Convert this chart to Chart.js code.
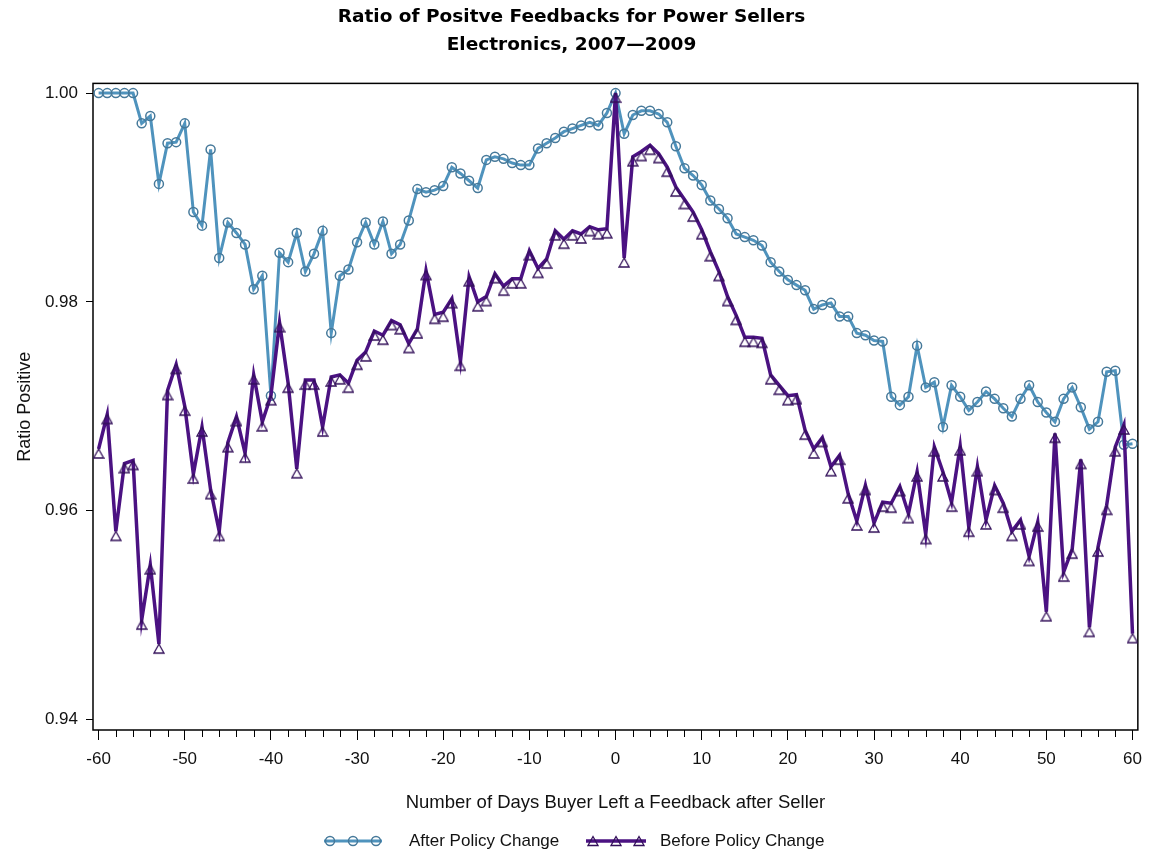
<!DOCTYPE html>
<html>
<head>
<meta charset="utf-8">
<script src="https://cdn.jsdelivr.net/npm/chart.js@4.4.1/dist/chart.umd.min.js"></script>
<style>
  html, body { margin: 0; padding: 0; background: #fff; }
  #chart { display: block; }
</style>
</head>
<body>
<canvas id="chart" width="1151" height="853"></canvas>
<script>
// days relative to the seller's feedback
const days = [
  -60, -59, -58, -57, -56, -55, -54, -53, -52, -51,
  -50, -49, -48, -47, -46, -45, -44, -43, -42, -41,
  -40, -39, -38, -37, -36, -35, -34, -33, -32, -31,
  -30, -29, -28, -27, -26, -25, -24, -23, -22, -21,
  -20, -19, -18, -17, -16, -15, -14, -13, -12, -11,
  -10, -9, -8, -7, -6, -5, -4, -3, -2, -1,
  0,
  1, 2, 3, 4, 5, 6, 7, 8, 9, 10,
  11, 12, 13, 14, 15, 16, 17, 18, 19, 20,
  21, 22, 23, 24, 25, 26, 27, 28, 29, 30,
  31, 32, 33, 34, 35, 36, 37, 38, 39, 40,
  41, 42, 43, 44, 45, 46, 47, 48, 49, 50,
  51, 52, 53, 54, 55, 56, 57, 58, 59, 60
];

const afterChange = [
  1.0000, 1.0000, 1.0000, 1.0000, 1.0000, 0.9971, 0.9978, 0.9913, 0.9952, 0.9953,
  0.9971, 0.9886, 0.9873, 0.9946, 0.9842, 0.9876, 0.9866, 0.9855, 0.9812, 0.9825,
  0.9710, 0.9847, 0.9838, 0.9866, 0.9829, 0.9846, 0.9868, 0.9770, 0.9825, 0.9831,
  0.9857, 0.9876, 0.9855, 0.9877, 0.9846, 0.9855, 0.9878, 0.9908, 0.9905, 0.9907,
  0.9911, 0.9929, 0.9923, 0.9916, 0.9909, 0.9936, 0.9939, 0.9937, 0.9933, 0.9931,
  0.9931, 0.9947, 0.9952, 0.9957, 0.9963, 0.9966, 0.9969, 0.9972, 0.9969, 0.9981,
  1.0000,
  0.9961, 0.9979, 0.9983, 0.9983, 0.9980, 0.9972, 0.9949, 0.9928, 0.9921, 0.9912,
  0.9897, 0.9889, 0.9880, 0.9865, 0.9862, 0.9859, 0.9854, 0.9838, 0.9829, 0.9821,
  0.9816, 0.9811, 0.9793, 0.9797, 0.9799, 0.9786, 0.9786, 0.9770, 0.9768, 0.9763,
  0.9762, 0.9709, 0.9701, 0.9709, 0.9758, 0.9718, 0.9723, 0.9680, 0.9720, 0.9709,
  0.9696, 0.9704, 0.9714, 0.9707, 0.9698, 0.9690, 0.9707, 0.9720, 0.9704, 0.9694,
  0.9685, 0.9707, 0.9718, 0.9699, 0.9678, 0.9685, 0.9733, 0.9734, 0.9663, 0.9664
];

const beforeChange = [
  0.9659, 0.9692, 0.9580, 0.9645, 0.9648, 0.9495, 0.9548, 0.9472, 0.9715, 0.9740,
  0.9700, 0.9635, 0.9680, 0.9620, 0.9580, 0.9665, 0.9690, 0.9655, 0.9730, 0.9685,
  0.9710, 0.9780, 0.9722, 0.9640, 0.9725, 0.9725, 0.9680, 0.9728, 0.9730, 0.9722,
  0.9744, 0.9752, 0.9772, 0.9768, 0.9782, 0.9778, 0.9760, 0.9774, 0.9830, 0.9788,
  0.9790, 0.9803, 0.9743, 0.9824, 0.9800, 0.9805, 0.9827, 0.9815, 0.9822, 0.9822,
  0.9849, 0.9832, 0.9841, 0.9868, 0.9860, 0.9868, 0.9865, 0.9872, 0.9869, 0.9870,
  1.0000,
  0.9842, 0.9939, 0.9944, 0.9950, 0.9942, 0.9929, 0.9910, 0.9898, 0.9886, 0.9869,
  0.9848, 0.9829, 0.9805, 0.9787, 0.9766, 0.9766, 0.9765, 0.9730, 0.9720, 0.9710,
  0.9711, 0.9677, 0.9659, 0.9670, 0.9642, 0.9653, 0.9616, 0.9590, 0.9624, 0.9588,
  0.9608, 0.9607, 0.9623, 0.9597, 0.9637, 0.9577, 0.9661, 0.9637, 0.9608, 0.9662,
  0.9584, 0.9642, 0.9591, 0.9624, 0.9607, 0.9580, 0.9591, 0.9556, 0.9589, 0.9503,
  0.9674, 0.9541, 0.9563, 0.9649, 0.9488, 0.9565, 0.9605, 0.9661, 0.9682, 0.9482
];

const xTickValues = [-60, -50, -40, -30, -20, -10, 0, 10, 20, 30, 40, 50, 60];
const yTickValues = [0.94, 0.96, 0.98, 1.00];

const FONT = "'Liberation Sans', Arial, sans-serif";
const TITLE_FONT = "'DejaVu Sans', Verdana, sans-serif";
const BLUE = '#4f93bd';
const BLUE_MARK = '#46799a';
const PURPLE = '#4b1282';
const PURPLE_MARK = '#33105a';

// hollow triangle, apex on the data point (as the SAS symbols are drawn)
function triangleMarker(color, apexY) {
  const c = document.createElement('canvas');
  c.width = 12;
  c.height = 22;
  const g = c.getContext('2d');
  g.strokeStyle = color;
  g.lineWidth = 1.3;
  g.beginPath();
  g.moveTo(6, apexY);
  g.lineTo(11, apexY + 9);
  g.lineTo(1, apexY + 9);
  g.closePath();
  g.stroke();
  return c;
}
const triMark = triangleMarker(PURPLE_MARK, 11);
const triLegend = triangleMarker(PURPLE_MARK, 6.5);

// box frame, minor x ticks and the bottom legend
const decorPlugin = {
  id: 'decor',
  beforeDatasetsDraw(chart) {
    const ctx = chart.ctx;
    const a = chart.chartArea;
    const xs = chart.scales.x;
    ctx.save();
    ctx.strokeStyle = '#000';
    ctx.lineWidth = 1.5;
    ctx.strokeRect(a.left, a.top, a.right - a.left, a.bottom - a.top);
    ctx.lineWidth = 1;
    for (let v = -58; v < 60; v += 2) {
      if (v % 10 === 0) continue;
      const px = Math.round(xs.getPixelForValue(v)) + 0.5;
      ctx.beginPath();
      ctx.moveTo(px, a.bottom);
      ctx.lineTo(px, a.bottom + 7);
      ctx.stroke();
    }
    ctx.restore();
  },
  afterDraw(chart) {
    const ctx = chart.ctx;
    const y = 841;
    ctx.save();
    ctx.font = '17px ' + FONT;
    ctx.fillStyle = '#111';
    ctx.textBaseline = 'middle';

    // After Policy Change
    ctx.strokeStyle = BLUE;
    ctx.lineWidth = 3;
    ctx.beginPath(); ctx.moveTo(324, y); ctx.lineTo(382, y); ctx.stroke();
    ctx.strokeStyle = BLUE_MARK;
    ctx.lineWidth = 1.5;
    [330, 353, 376].forEach(cx => {
      ctx.beginPath(); ctx.arc(cx, y, 4.5, 0, Math.PI * 2); ctx.stroke();
    });
    ctx.fillText(chart.data.datasets[1].label, 409, y);

    // Before Policy Change
    ctx.strokeStyle = PURPLE;
    ctx.lineWidth = 3.5;
    ctx.beginPath(); ctx.moveTo(586, y); ctx.lineTo(646, y); ctx.stroke();
    [593, 616, 639].forEach(cx => {
      ctx.drawImage(triLegend, cx - 6, y - 11);
    });
    ctx.fillText(chart.data.datasets[0].label, 660, y);
    ctx.restore();
  }
};

const ctx = document.getElementById('chart').getContext('2d');

new Chart(ctx, {
  type: 'line',
  data: {
    datasets: [
      {
        label: 'Before Policy Change',
        data: days.map((d, i) => ({ x: d, y: beforeChange[i] })),
        borderColor: PURPLE,
        borderWidth: 3.5,
        pointStyle: triMark,
        pointRadius: 5,
        pointHoverRadius: 5,
        tension: 0,
        order: 0
      },
      {
        label: 'After Policy Change',
        data: days.map((d, i) => ({ x: d, y: afterChange[i] })),
        borderColor: BLUE,
        borderWidth: 3,
        pointStyle: 'circle',
        pointRadius: 4.5,
        pointBorderWidth: 1.5,
        pointBorderColor: BLUE_MARK,
        pointBackgroundColor: 'rgba(255,255,255,0)',
        tension: 0,
        order: 1
      }
    ]
  },
  options: {
    responsive: false,
    animation: false,
    layout: {
      padding: { left: 0, right: 8, top: 0, bottom: 33 }
    },
    scales: {
      x: {
        type: 'linear',
        min: -60.65,
        max: 60.62,
        afterBuildTicks: s => { s.ticks = xTickValues.map(v => ({ value: v })); },
        afterFit: s => { s.height = 90; },
        grid: { drawOnChartArea: false, drawTicks: true, tickLength: 10, color: '#000', lineWidth: 1 },
        border: { display: false },
        ticks: {
          font: { family: FONT, size: 17 },
          color: '#111',
          padding: 9,
          maxRotation: 0,
          autoSkip: false,
          callback: v => String(v)
        },
        title: {
          display: true,
          text: 'Number of Days Buyer Left a Feedback after Seller',
          font: { family: FONT, size: 18.5 },
          color: '#111',
          padding: { top: 0, bottom: 6 }
        }
      },
      y: {
        min: 0.93897,
        max: 1.00093,
        afterBuildTicks: s => { s.ticks = yTickValues.map(v => ({ value: v })); },
        afterFit: s => { s.width = 93; },
        grid: { drawOnChartArea: false, drawTicks: true, tickLength: 7, color: '#000', lineWidth: 1 },
        border: { display: false },
        ticks: {
          font: { family: FONT, size: 17 },
          color: '#111',
          padding: 8,
          callback: v => v.toFixed(2)
        },
        title: {
          display: true,
          text: 'Ratio Positive',
          font: { family: FONT, size: 18 },
          color: '#111',
          padding: { top: 14, bottom: 0 }
        }
      }
    },
    plugins: {
      legend: { display: false },
      tooltip: { enabled: false },
      title: {
        display: true,
        text: ['Ratio of Positve Feedbacks for Power Sellers', 'Electronics, 2007\u20142009'],
        font: { family: TITLE_FONT, size: 18.5, weight: 'bold', lineHeight: 1.47 },
        color: '#000',
        padding: { top: 4, bottom: 25 }
      }
    }
  },
  plugins: [decorPlugin]
});
</script>
</body>
</html>
